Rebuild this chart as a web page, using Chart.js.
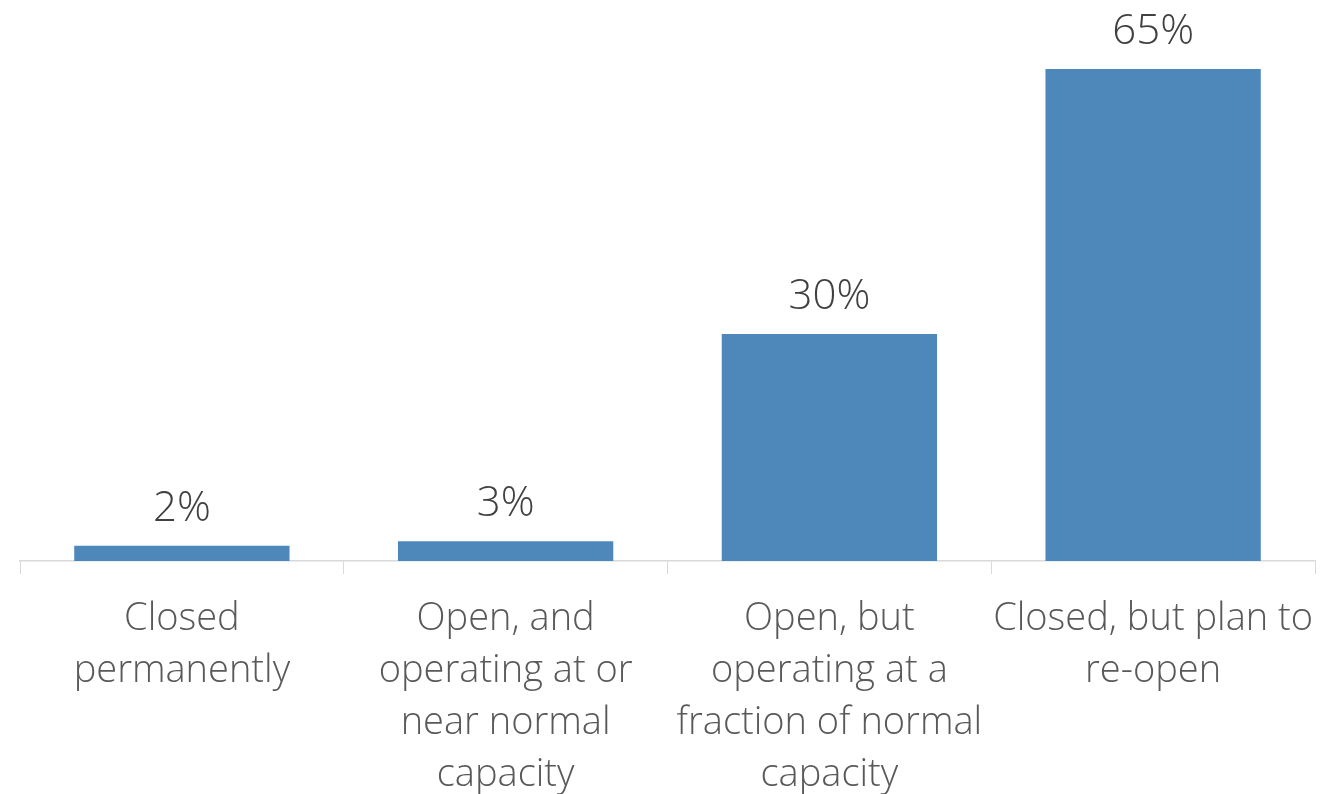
<!DOCTYPE html>
<html lang="en">
<head>
<meta charset="UTF-8">
<title>Business status</title>
<script src="https://cdn.jsdelivr.net/npm/chart.js"></script>
<style>
    html, body { margin: 0; padding: 0; background: #fff; }
    #wrap { width: 1329px; height: 794px; }
</style>
</head>
<body>
<div id="wrap"><canvas id="chart"></canvas></div>
<script>
    // categories (wrapped as in the original) and values in percent
    const categories = [
        ['Closed', 'permanently'],
        ['Open, and', 'operating at or', 'near normal', 'capacity'],
        ['Open, but', 'operating at a', 'fraction of normal', 'capacity'],
        ['Closed, but plan to', 're-open']
    ];
    const values = [2, 2.6, 30, 65];
    const valueLabels = ['2%', '3%', '30%', '65%'];

    const fontName = '"Open Sans", "Noto Sans", sans-serif';

    // draws the % above each bar
    const barLabels = {
        id: 'barLabels',
        afterDatasetsDraw(chart) {
            const c = chart.ctx;
            const meta = chart.getDatasetMeta(0);
            c.save();
            c.font = '300 42px ' + fontName;
            c.fillStyle = '#404040';
            c.textAlign = 'center';
            c.textBaseline = 'middle';
            meta.data.forEach((bar, i) => {
                c.fillText(valueLabels[i], bar.x, bar.y - 37);
            });
            c.restore();
        }
    };

    new Chart(document.getElementById('chart'), {
        type: 'bar',
        data: {
            labels: categories,
            datasets: [{
                data: values,
                backgroundColor: '#4E88BA',
                barPercentage: 0.665,
                categoryPercentage: 1
            }]
        },
        options: {
            responsive: true,
            maintainAspectRatio: false,
            animation: false,
            layout: { padding: { top: 69, left: 20, right: 14, bottom: 0 } },
            plugins: { legend: { display: false }, tooltip: { enabled: false } },
            scales: {
                x: {
                    grid: { display: true, drawOnChartArea: false, drawTicks: true, tickLength: 13, color: '#d9d9d9', offset: true },
                    border: { display: true, color: '#d9d9d9', width: 1.5 },
                    ticks: {
                        color: '#595959',
                        font: { family: fontName, size: 38, weight: 300, lineHeight: 1.37 },
                        maxRotation: 0,
                        autoSkip: false,
                        padding: 19
                    },
                    afterFit(scale) {
                        scale.height = 233;
                        // labels may run a little past the edges, as in the original
                        scale.paddingLeft = 0;
                        scale.paddingRight = 0;
                    }
                },
                y: {
                    display: false,
                    min: 0,
                    max: 65
                }
            }
        },
        plugins: [barLabels]
    });
</script>
</body>
</html>
